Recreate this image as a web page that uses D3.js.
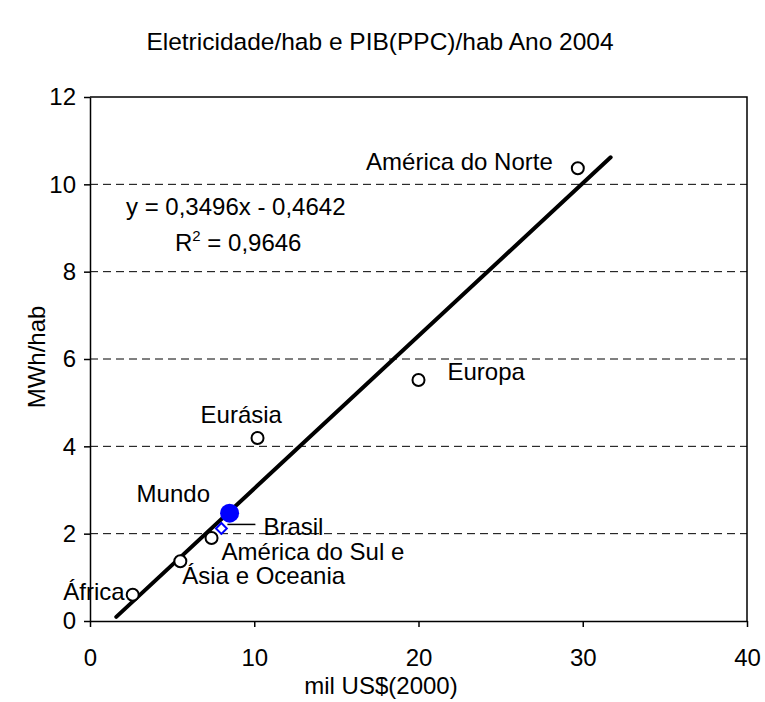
<!DOCTYPE html>
<html lang="en">
<head>
    <meta charset="utf-8">
    <title>Eletricidade/hab e PIB(PPC)/hab</title>
    <script src="https://cdn.jsdelivr.net/npm/d3@7"></script>
    <style>
        body { margin: 0; background: #fff; }
        svg text { font-family: "Liberation Sans", Arial, sans-serif; fill: #000; }
    </style>
</head>
<body>
<script>
    // data
    var regions = ["África", "Ásia e Oceania", "América do Sul e", "Eurásia", "Europa", "América do Norte"];
    var gdp = [2.6, 5.5, 7.4, 10.2, 20.0, 29.7];     // mil US$(2000)
    var elec = [0.6, 1.37, 1.9, 4.19, 5.52, 10.37];  // MWh/hab
    var brasil = [8.0, 2.12];
    var mundo = [8.5, 2.47];
    var trendX = [1.6, 31.7];
    var trendY = [0.095, 10.62];
    var xTicks = [0, 10, 20, 30, 40];
    var yTicks = [0, 2, 4, 6, 8, 10, 12];

    // label placement (pixels relative to the point)
    var labelPos = {
        "África": [-8, 5, "end"],
        "Ásia e Oceania": [2, 23, "start"],
        "América do Sul e": [10, 22, "start"],
        "Eurásia": [-57, -15, "start"],
        "Europa": [29, 0, "start"],
        "América do Norte": [-25, 2, "end"]
    };

    var w = 765, h = 702;
    var fs = 24;

    var svg = d3.select("body").append("svg")
        .attr("width", w)
        .attr("height", h);

    var x = d3.scaleLinear().domain([0, 40]).range([90, 747]);
    var y = d3.scaleLinear().domain([0, 12]).range([621, 97]);

    // title
    svg.append("text")
        .attr("x", 380).attr("y", 50)
        .attr("text-anchor", "middle")
        .style("font-size", "24.5px")
        .text("Eletricidade/hab e PIB(PPC)/hab Ano 2004");

    // dashed grid
    svg.append("g").selectAll("line")
        .data(yTicks.filter(d => d > 0 && d < 12))
        .enter().append("line")
        .attr("x1", x(0)).attr("x2", x(40))
        .attr("y1", d => y(d)).attr("y2", d => y(d))
        .attr("stroke", "#000")
        .attr("stroke-width", 1)
        .attr("stroke-dasharray", "8,5");

    // frame top/right
    svg.append("path")
        .attr("d", "M" + x(0) + "," + y(12) + "H" + x(40) + "V" + y(0))
        .attr("fill", "none")
        .attr("stroke", "#000")
        .attr("stroke-width", 1.5);

    // axes
    var xAxis = d3.axisBottom(x).tickValues(xTicks).tickSize(6).tickSizeOuter(0).tickPadding(22);
    var yAxis = d3.axisLeft(y).tickValues(yTicks).tickSize(6).tickSizeOuter(0).tickPadding(8);

    var gx = svg.append("g")
        .attr("transform", "translate(0," + y(0) + ")")
        .call(xAxis);
    var gy = svg.append("g")
        .attr("transform", "translate(" + x(0) + ",0)")
        .call(yAxis);

    [gx, gy].forEach(function (g) {
        g.selectAll("path, line").attr("stroke", "#000").attr("stroke-width", 1.5);
        g.selectAll("text")
            .style("font-size", fs + "px")
            .style("font-family", "'Liberation Sans', Arial, sans-serif")
            .attr("fill", "#000");
    });

    // axis titles
    svg.append("text")
        .attr("x", 381).attr("y", 694)
        .attr("text-anchor", "middle")
        .style("font-size", fs + "px")
        .text("mil US$(2000)");

    svg.append("text")
        .attr("transform", "translate(45,357) rotate(-90)")
        .attr("text-anchor", "middle")
        .style("font-size", fs + "px")
        .text("MWh/hab");

    // trendline
    svg.append("line")
        .attr("x1", x(trendX[0])).attr("y1", y(trendY[0]))
        .attr("x2", x(trendX[1])).attr("y2", y(trendY[1]))
        .attr("stroke", "#000")
        .attr("stroke-width", 4)
        .attr("stroke-linecap", "round");

    // equation
    svg.append("text")
        .attr("x", 126).attr("y", 215)
        .style("font-size", fs + "px")
        .text("y = 0,3496x - 0,4642");
    var r2 = svg.append("text")
        .attr("x", 175).attr("y", 251)
        .style("font-size", fs + "px");
    r2.append("tspan").text("R");
    r2.append("tspan").attr("dy", -10).style("font-size", "15px").text("2");
    r2.append("tspan").attr("dy", 10).text(" = 0,9646");

    // regions
    var pts = regions.map((r, i) => ({ name: r, gx: gdp[i], e: elec[i] }));

    svg.append("g").selectAll("circle")
        .data(pts)
        .enter().append("circle")
        .attr("cx", d => x(d.gx))
        .attr("cy", d => y(d.e))
        .attr("r", 6)
        .attr("fill", "#fff")
        .attr("stroke", "#000")
        .attr("stroke-width", 2);

    svg.append("g").selectAll("text")
        .data(pts)
        .enter().append("text")
        .attr("x", d => x(d.gx) + labelPos[d.name][0])
        .attr("y", d => y(d.e) + labelPos[d.name][1])
        .attr("text-anchor", d => labelPos[d.name][2])
        .style("font-size", fs + "px")
        .text(d => d.name);

    // Brasil: open blue diamond with leader line
    var bx = x(brasil[0]), by = y(brasil[1]);
    svg.append("path")
        .attr("d", d3.symbol().type(d3.symbolDiamond2).size(75))
        .attr("transform", "translate(" + bx + "," + by + ")")
        .attr("fill", "#fff")
        .attr("stroke", "#0000ff")
        .attr("stroke-width", 2);

    // Mundo: filled blue circle
    var mx = x(mundo[0]), my = y(mundo[1]);
    svg.append("circle")
        .attr("cx", mx).attr("cy", my)
        .attr("r", 9.5)
        .attr("fill", "#0000ff");

    svg.append("line")
        .attr("x1", bx + 6).attr("y1", by - 4)
        .attr("x2", bx + 34).attr("y2", by - 4)
        .attr("stroke", "#000")
        .attr("stroke-width", 1.5);
    svg.append("text")
        .attr("x", bx + 42).attr("y", by + 7)
        .style("font-size", fs + "px")
        .text("Brasil");

    svg.append("text")
        .attr("x", mx - 93).attr("y", my - 11)
        .style("font-size", fs + "px")
        .text("Mundo");
</script>
</body>
</html>
